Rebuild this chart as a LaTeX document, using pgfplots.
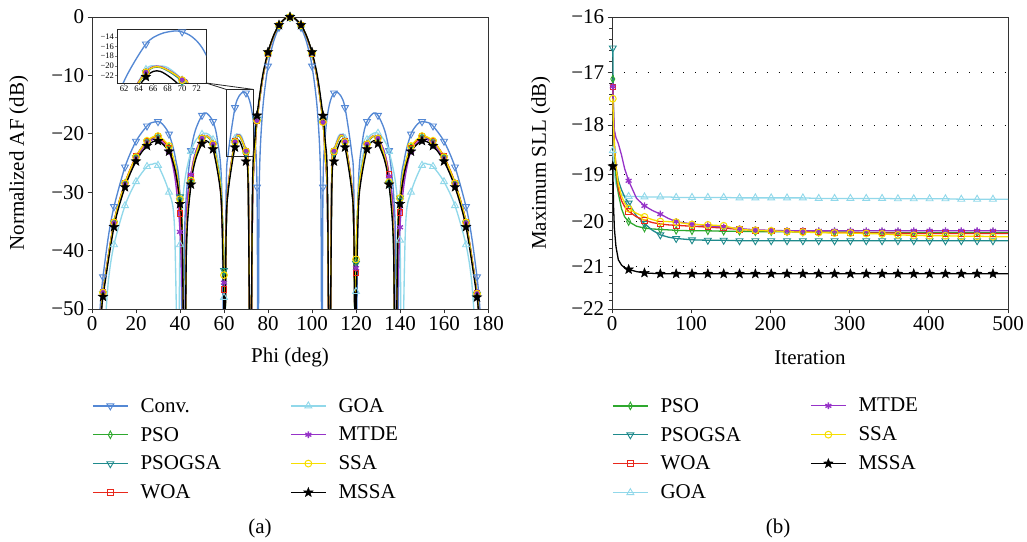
\documentclass[border=0pt]{standalone}
\usepackage{fontspec}
\setmainfont{Liberation Serif}
\usepackage{pgfplots}
\usepackage{pgfplotstable}
\pgfplotsset{compat=1.18}
\usetikzlibrary{plotmarks}

\definecolor{cConv}{RGB}{84,136,212}
\definecolor{cPSO}{RGB}{46,168,46}
\definecolor{cPSOGSA}{RGB}{30,138,140}
\definecolor{cWOA}{RGB}{232,40,28}
\definecolor{cGOA}{RGB}{145,216,234}
\definecolor{cMTDE}{RGB}{150,50,200}
\definecolor{cSSA}{RGB}{246,222,0}

\pgfdeclareplotmark{fstar}{%
  \pgfpathmoveto{\pgfpointpolar{90}{\pgfplotmarksize}}%
  \pgfpathlineto{\pgfpointpolar{126}{0.42\pgfplotmarksize}}%
  \pgfpathlineto{\pgfpointpolar{162}{\pgfplotmarksize}}%
  \pgfpathlineto{\pgfpointpolar{198}{0.42\pgfplotmarksize}}%
  \pgfpathlineto{\pgfpointpolar{234}{\pgfplotmarksize}}%
  \pgfpathlineto{\pgfpointpolar{270}{0.42\pgfplotmarksize}}%
  \pgfpathlineto{\pgfpointpolar{306}{\pgfplotmarksize}}%
  \pgfpathlineto{\pgfpointpolar{342}{0.42\pgfplotmarksize}}%
  \pgfpathlineto{\pgfpointpolar{18}{\pgfplotmarksize}}%
  \pgfpathlineto{\pgfpointpolar{54}{0.42\pgfplotmarksize}}%
  \pgfpathclose
  \pgfusepathqfillstroke}

\pgfplotsset{
  sConv/.style={color=cConv, mark=triangle, mark size=4pt, mark options={solid, line width=0.9pt, rotate=180}},
  sPSO/.style={color=cPSO, mark=diamond, mark size=3.8pt, mark options={solid, line width=0.9pt, xscale=0.7}},
  sPSOGSA/.style={color=cPSOGSA, mark=triangle, mark size=4pt, mark options={solid, line width=0.9pt, rotate=180}},
  sWOA/.style={color=cWOA, mark=square, mark size=2.8pt, mark options={solid, line width=0.9pt}},
  sGOA/.style={color=cGOA, mark=triangle, mark size=4pt, mark options={solid, line width=0.9pt}},
  sMTDE/.style={color=cMTDE, mark=asterisk, mark size=3.4pt, mark options={solid, line width=1.3pt}},
  sSSA/.style={color=cSSA, mark=o, mark size=3.4pt, mark options={solid, line width=1pt}},
  sMSSA/.style={color=black, mark=fstar, mark size=5pt, mark options={solid, line width=0.4pt}},
  mainmk/.style={x filter/.expression={abs(mod(x,5))<0.01 ? x : nan}, restrict y to domain=-50.5:1},
  insetmk/.style={x filter/.expression={(abs(mod(x,5))<0.01 && x>61 && x<73.3) ? x : nan}, restrict y to domain=-23.6:-12.4},
  sllmk/.style={x filter/.expression={abs(mod(x-1,20))<0.01 ? x : nan}},
  legcol/.style={hide axis, scale only axis, width=10pt, height=10pt, xmin=0, xmax=1, ymin=0, ymax=1, anchor=north west,
    legend style={at={(0,1)}, anchor=north west, draw=none, fill=none, inner sep=0pt, row sep=13.5pt,
      font=\fontsize{21}{25}\selectfont, nodes={inner sep=0pt},
      /tikz/every odd column/.append style={column sep=12pt}},
    legend cell align=left,
    legend image code/.code={\draw[mark repeat=2,mark phase=2,line width=1.3pt,##1] plot coordinates {(0pt,0pt) (17.5pt,0pt) (35pt,0pt)};}},
  frame/.style={scale only axis, anchor=south west, tick align=outside, tick pos=left,
    axis line style={black!80, line width=0.9pt}, every tick/.style={black!80, line width=0.8pt},
    tick label style={font=\fontsize{21}{25}\selectfont}, label style={font=\fontsize{21}{25}\selectfont},
    /pgf/number format/assume math mode=true},
}

\newcommand{\afplot}[4]{%
  \addplot[#1, no marks, smooth, line width=1.35pt, forget plot] table[x=phi,y=#3]{#2};
  \addplot[#1, only marks, forget plot, #4] table[x=phi,y=#3]{#2};
}
\newcommand{\sllplot}[2]{%
  \addplot[#1, no marks, line width=1.3pt, forget plot] table[x=it,y=#2]{\slltab};
  \addplot[#1, only marks, forget plot, sllmk] table[x=it,y=#2]{\slltab};
}

\pgfplotstableread{
phi pso psogsa woa mtde ssa mssa
0 -65 -65 -65 -65 -65 -65
4 -51.0 -51.2 -50.9 -50.8 -51.0 -51.8
5 -47.2 -47.4 -47.1 -47.0 -47.2 -47.9
10 -35.2 -35.3 -35.1 -35.3 -35.2 -35.95
15 -28.5 -28.6 -28.4 -28.7 -28.5 -29.13
20 -24.0 -24.1 -23.9 -24.3 -24.0 -24.71
25 -21.3 -21.4 -21.3 -21.6 -21.2 -22.05
30 -20.5 -20.6 -20.5 -20.9 -20.4 -21.21
35 -22.3 -22.3 -22.5 -23.0 -22.1 -23.03
37.5 -25.3 -25.0 -25.8 -27.0 -25.0 -25.82
39 -28.3 -27.8 -29.3 -31.8 -27.9 -28.82
40 -31.5 -30.8 -33.6 -36.8 -31.2 -32.0
41 -37.5 -36.5 -41.0 -47.0 -37.0 -37.54
42.07 -65 -65 -65 -65 -65 -65
43 -37.5 -37.8 -35.5 -34.0 -37.2 -38.6
45 -28.2 -28.3 -27.3 -27.0 -28.0 -28.67
47 -23.9 -24.0 -23.4 -23.2 -23.8 -24.52
50 -20.9 -20.9 -20.8 -20.7 -20.8 -21.68
52 -20.4 -20.45 -20.35 -20.3 -20.35 -21.2
55 -21.8 -21.9 -21.8 -21.7 -21.8 -22.64
58 -27.6 -27.5 -28.2 -28.0 -27.7 -28.71
59 -32.3 -32.1 -33.3 -33.0 -32.5 -33.86
60 -43.7 -43.4 -46.7 -45.5 -44.2 -51.4
60.15 -65 -65 -65 -65 -65 -65
61 -36.5 -36.8 -36.0 -36.2 -36.5 -36.22
62 -28.9 -29.1 -28.6 -28.8 -28.9 -29.55
65 -21.4 -21.5 -21.3 -21.3 -21.4 -22.32
67 -20.3 -20.4 -20.25 -20.2 -20.3 -21.2
70 -23.1 -23.3 -23.0 -22.9 -23.0 -24.73
71 -27.0 -27.3 -26.8 -26.7 -26.9 -29.5
72.03 -65 -65 -65 -65 -65 -65
73 -31.0 -31.0 -31.5 -31.5 -31.0 -28.1
74 -23.3 -23.2 -23.5 -23.6 -23.4 -21.2
75 -17.6 -17.5 -17.7 -17.8 -17.7 -16.87
77.5 -10.6 -10.6 -10.7 -10.7 -10.6 -10.17
80 -6.2 -6.2 -6.25 -6.25 -6.2 -6.01
82.5 -3.3 -3.3 -3.32 -3.32 -3.3 -3.22
85 -1.42 -1.42 -1.43 -1.43 -1.42 -1.38
87.5 -0.35 -0.35 -0.35 -0.35 -0.35 -0.34
90 0 0 0 0 0 0
92.5 -0.35 -0.35 -0.35 -0.35 -0.35 -0.34
95 -1.42 -1.42 -1.43 -1.43 -1.42 -1.38
97.5 -3.3 -3.3 -3.32 -3.32 -3.3 -3.22
100 -6.2 -6.2 -6.25 -6.25 -6.2 -6.01
102.5 -10.7 -10.7 -10.8 -10.8 -10.7 -10.17
105 -17.9 -17.8 -18.0 -18.0 -18.0 -16.9
106 -23.6 -23.5 -23.8 -23.9 -23.7 -21.2
107 -31.0 -31.0 -31.5 -31.5 -31.0 -28.1
107.97 -65 -65 -65 -65 -65 -65
109 -27.0 -27.3 -26.8 -26.7 -26.9 -29.5
110 -23.1 -23.3 -23.0 -22.9 -23.0 -24.73
113 -20.3 -20.4 -20.25 -20.2 -20.3 -21.2
115 -21.4 -21.5 -21.3 -21.3 -21.4 -22.32
118 -28.9 -29.1 -28.6 -28.8 -28.9 -29.55
119 -36.5 -36.8 -36.0 -36.2 -36.5 -36.22
119.85 -65 -65 -65 -65 -65 -65
120 -41.8 -42.2 -43.8 -43.0 -41.5 -51.4
121 -31.5 -31.3 -32.5 -32.2 -31.4 -33.86
122 -27.4 -27.3 -27.9 -27.7 -27.3 -28.71
125 -21.8 -21.9 -21.8 -21.7 -21.8 -22.64
128 -20.4 -20.45 -20.35 -20.3 -20.35 -21.2
130 -20.9 -20.9 -20.8 -20.7 -20.8 -21.68
133 -23.9 -24.0 -23.4 -23.2 -23.8 -24.52
135 -28.3 -28.5 -27.0 -27.3 -28.3 -28.67
137 -37.5 -37.8 -35.2 -34.5 -37.2 -38.6
137.93 -65 -65 -65 -65 -65 -65
139 -37.5 -36.5 -41.0 -46.0 -36.8 -37.54
140 -31.5 -31.0 -33.5 -36.0 -31.0 -32.0
141 -28.3 -27.9 -29.2 -31.3 -27.8 -28.82
142.5 -25.3 -25.0 -25.8 -27.0 -25.0 -25.82
145 -22.3 -22.3 -22.5 -23.0 -22.1 -23.03
150 -20.5 -20.6 -20.5 -20.9 -20.4 -21.21
155 -21.3 -21.4 -21.3 -21.6 -21.2 -22.05
160 -24.0 -24.1 -23.9 -24.3 -24.0 -24.71
165 -28.5 -28.6 -28.4 -28.7 -28.5 -29.13
170 -35.2 -35.3 -35.1 -35.3 -35.2 -35.95
175 -47.4 -47.5 -47.3 -47.2 -47.4 -48.0
176 -51.2 -51.4 -51.1 -51.0 -51.2 -51.8
180 -65 -65 -65 -65 -65 -65
}\afopt

\pgfplotstableread{
phi conv
0 -65
3 -53.3
4 -48.3
5 -44.5
7.5 -37.45
10 -32.48
15 -25.68
20 -21.28
25 -18.66
27 -18.11
30 -17.92
32 -18.32
35 -20.05
38 -24.32
40 -31.43
41.41 -65
42 -38.64
43 -29.92
45 -22.89
47 -19.38
50 -16.84
52 -16.44
55 -17.90
57 -21.10
59 -29.78
60 -65
61 -29.28
62 -23.14
65 -15.52
67 -13.44
69 -12.80
70 -13.01
71 -13.65
72 -14.85
73 -16.88
74 -20.51
75 -29.13
75.52 -65
76 -29.33
77.5 -16.28
80 -8.40
82.5 -4.26
85 -1.79
87.5 -0.43
90 0
92.5 -0.43
95 -1.79
97.5 -4.26
100 -8.40
102.5 -16.28
104 -29.33
104.48 -65
105 -29.13
106 -20.51
107 -16.88
108 -14.85
109 -13.65
110 -13.01
111 -12.80
113 -13.44
115 -15.52
118 -23.14
119 -29.28
120 -65
121 -29.78
123 -21.10
125 -17.90
128 -16.44
130 -16.84
133 -19.38
135 -22.89
137 -29.92
138 -38.64
138.59 -65
140 -31.43
142 -24.32
145 -20.05
148 -18.32
150 -17.92
153 -18.11
155 -18.66
160 -21.28
165 -25.68
170 -32.48
172.5 -37.45
175 -44.5
176 -48.3
177 -53.3
180 -65
}\afconv

\pgfplotstableread{
phi goa
0 -65
5 -56
7.5 -45
10 -39
15 -32.3
20 -28.2
25 -25.6
27.5 -25.2
30 -25.4
35 -30
37.5 -36
39.2 -65
40 -39
42 -28.5
45 -23
47.5 -20.9
50 -20.1
52 -19.9
55 -21
57.5 -25
59 -31
60 -48
60.4 -65
61 -36
62 -29
65 -20.8
66.5 -20.1
68 -20.4
70 -23.0
71 -27.0
72.1 -65
73 -30.5
74 -23.0
75 -17.6
77.5 -10.6
80 -6.2
82.5 -3.3
85 -1.42
87.5 -0.35
90 0
92.5 -0.35
95 -1.42
97.5 -3.3
100 -6.2
102.5 -10.6
105 -17.8
106 -23.2
107 -30.5
107.9 -65
109 -27.0
110 -23.0
112 -20.4
113.5 -20.1
115 -20.8
118 -29
119 -36
119.6 -65
120 -47
121 -31
122.5 -25
125 -21
128 -19.9
130 -19.9
132.5 -20.9
135 -23
138 -28.5
140 -38.2
140.8 -65
142.5 -36
145 -30
150 -25.4
152.5 -25.2
155 -25.6
160 -28.2
165 -32.3
170 -39
172.5 -45
175 -56
180 -65
}\afgoa

\pgfplotstableread{
it pso psogsa woa goa mtde ssa mssa
1 17.12 16.55 17.27 18.51 17.26 17.49 18.83
2 17.9 17.9 17.9 18.8 17.75 18.05 19.7
3 18.5 18.45 18.35 19.0 18.1 18.45 20.15
5 19.05 18.85 18.85 19.2 18.25 18.85 20.55
8 19.4 19.12 19.3 19.35 18.37 19.2 20.85
12 19.72 19.32 19.55 19.42 18.6 19.45 20.97
16 19.9 19.47 19.68 19.45 18.88 19.6 21.03
21 20.0 19.60 19.78 19.46 19.13 19.72 21.07
31 20.1 19.88 19.9 19.46 19.5 19.82 21.12
41 20.14 20.04 19.97 19.47 19.66 19.9 21.15
51 20.16 20.19 20.02 19.47 19.76 19.96 21.16
61 20.17 20.29 20.05 19.47 19.84 20.0 21.17
71 20.18 20.34 20.07 19.47 19.93 20.0 21.17
81 20.19 20.37 20.08 19.48 20.0 20.01 21.17
101 20.2 20.40 20.1 19.48 20.05 20.06 21.17
121 20.2 20.41 20.12 19.48 20.09 20.07 21.17
141 20.21 20.41 20.14 19.48 20.12 20.09 21.17
161 20.21 20.42 20.17 19.49 20.15 20.17 21.17
181 20.22 20.42 20.19 19.49 20.18 20.19 21.17
201 20.22 20.42 20.2 19.49 20.19 20.2 21.17
221 20.22 20.42 20.21 19.49 20.2 20.22 21.17
241 20.23 20.42 20.22 19.49 20.2 20.23 21.17
261 20.23 20.42 20.23 19.5 20.2 20.24 21.17
281 20.23 20.42 20.24 19.5 20.2 20.25 21.17
301 20.23 20.42 20.24 19.5 20.2 20.25 21.17
321 20.24 20.42 20.25 19.5 20.2 20.26 21.17
341 20.24 20.42 20.25 19.5 20.2 20.27 21.17
361 20.24 20.42 20.25 19.51 20.2 20.29 21.17
381 20.24 20.42 20.26 19.51 20.2 20.3 21.17
401 20.24 20.42 20.26 19.51 20.2 20.31 21.17
421 20.24 20.42 20.26 19.51 20.2 20.31 21.17
441 20.24 20.42 20.26 19.52 20.2 20.32 21.17
461 20.24 20.42 20.26 19.52 20.2 20.32 21.17
481 20.24 20.42 20.26 19.52 20.2 20.33 21.17
500 20.24 20.42 20.26 19.52 20.2 20.33 21.17
}\slltab

\begin{document}
\begin{tikzpicture}[x=1pt,y=1pt]
\useasboundingbox (0,0) rectangle (1027,541);

% ---------- (a) ----------
\begin{axis}[frame, at={(92pt,232pt)}, width=396pt, height=292pt,
  xmin=0, xmax=180, ymin=-50, ymax=0,
  xtick={0,20,...,180}, ytick={-50,-40,-30,-20,-10,0},
  yticklabels={−50,−40,−30,−20,−10,0},
  xlabel={Phi (deg)}, ylabel={Normalized AF (dB)},
  xlabel style={at={(axis description cs:0.5,-0.165)}, anchor=center},
  ylabel style={at={(axis description cs:-0.185,0.5)}, anchor=center}]
\afplot{sConv}{\afconv}{conv}{mainmk}
\afplot{sGOA}{\afgoa}{goa}{mainmk}
\afplot{sPSO}{\afopt}{pso}{mainmk}
\afplot{sPSOGSA}{\afopt}{psogsa}{mainmk}
\afplot{sWOA}{\afopt}{woa}{mainmk}
\afplot{sMTDE}{\afopt}{mtde}{mainmk}
\afplot{sSSA}{\afopt}{ssa}{mainmk}
\afplot{sMSSA}{\afopt}{mssa}{mainmk}
\draw[black!85, line width=0.9pt] (axis cs:61,-12.4) rectangle (axis cs:73.3,-23.8);
\coordinate (bTL) at (axis cs:61,-12.4);
\coordinate (bTR) at (axis cs:73.3,-12.4);
\end{axis}

% inset
\begin{axis}[name=inset, scale only axis, anchor=south west, at={(117pt,458pt)}, width=89pt, height=54pt,
  xmin=61, xmax=73.3, ymin=-23.6, ymax=-12.4,
  xtick={62,64,...,72}, ytick={-22,-20,-18,-16,-14},
  yticklabels={−22,−20,−18,−16,−14},
  tick pos=left, tick align=outside, major tick length=2pt,
  axis line style={black!85, line width=0.9pt},
  tick label style={font=\fontsize{8.5}{10}\selectfont, inner sep=1pt},
  /pgf/number format/assume math mode=true,
  axis background/.style={fill=white}]
\afplot{sConv}{\afconv}{conv}{insetmk}
\afplot{sGOA}{\afgoa}{goa}{insetmk}
\afplot{sPSO}{\afopt}{pso}{insetmk}
\afplot{sPSOGSA}{\afopt}{psogsa}{insetmk}
\afplot{sWOA}{\afopt}{woa}{insetmk}
\afplot{sMTDE}{\afopt}{mtde}{insetmk}
\afplot{sSSA}{\afopt}{ssa}{insetmk}
\afplot{sMSSA}{\afopt}{mssa}{insetmk}
\end{axis}
\draw[black!85, line width=0.8pt] (inset.south east) -- (bTL);
\draw[black!85, line width=0.8pt] (inset.south east) -- (bTR);

% ---------- (b) ----------
\begin{axis}[frame, at={(612pt,232pt)}, width=396pt, height=292pt,
  xmin=0, xmax=500, ymode=log, y dir=reverse, ymin=16, ymax=22,
  xtick={0,100,...,500}, ytick={16,17,18,19,20,21,22},
  yticklabels={−16,−17,−18,−19,−20,−21,−22},
  minor ytick={16.2,16.4,16.6,16.8,17.2,17.4,17.6,17.8,18.2,18.4,18.6,18.8,19.2,19.4,19.6,19.8,20.2,20.4,20.6,20.8,21.2,21.4,21.6,21.8},
  minor tick length=3pt,
  ymajorgrids, major grid style={black, line width=0.9pt, dash pattern=on 0.9pt off 11pt},
  xlabel={Iteration}, ylabel={Maximum SLL (dB)},
  xlabel style={at={(axis description cs:0.5,-0.165)}, anchor=center},
  ylabel style={at={(axis description cs:-0.18,0.5)}, anchor=center}]
\sllplot{sGOA}{goa}
\sllplot{sPSO}{pso}
\sllplot{sPSOGSA}{psogsa}
\sllplot{sWOA}{woa}
\sllplot{sMTDE}{mtde}
\sllplot{sSSA}{ssa}
\sllplot{sMSSA}{mssa}
\end{axis}

% ---------- legends ----------
\begin{axis}[legcol, at={(92pt,143pt)}]
\addlegendimage{sConv}\addlegendentry{Conv.}
\addlegendimage{sPSO}\addlegendentry{PSO}
\addlegendimage{sPSOGSA}\addlegendentry{PSOGSA}
\addlegendimage{sWOA}\addlegendentry{WOA}
\end{axis}
\begin{axis}[legcol, at={(290pt,143pt)}]
\addlegendimage{sGOA}\addlegendentry{GOA}
\addlegendimage{sMTDE}\addlegendentry{MTDE}
\addlegendimage{sSSA}\addlegendentry{SSA}
\addlegendimage{sMSSA}\addlegendentry{MSSA}
\end{axis}
\begin{axis}[legcol, at={(612pt,143pt)}]
\addlegendimage{sPSO}\addlegendentry{PSO}
\addlegendimage{sPSOGSA}\addlegendentry{PSOGSA}
\addlegendimage{sWOA}\addlegendentry{WOA}
\addlegendimage{sGOA}\addlegendentry{GOA}
\end{axis}
\begin{axis}[legcol, at={(810pt,143pt)}]
\addlegendimage{sMTDE}\addlegendentry{MTDE}
\addlegendimage{sSSA}\addlegendentry{SSA}
\addlegendimage{sMSSA}\addlegendentry{MSSA}
\end{axis}

\node[font=\fontsize{21}{25}\selectfont] at (260,13) {(a)};
\node[font=\fontsize{21}{25}\selectfont] at (778,13) {(b)};
\end{tikzpicture}
\end{document}
